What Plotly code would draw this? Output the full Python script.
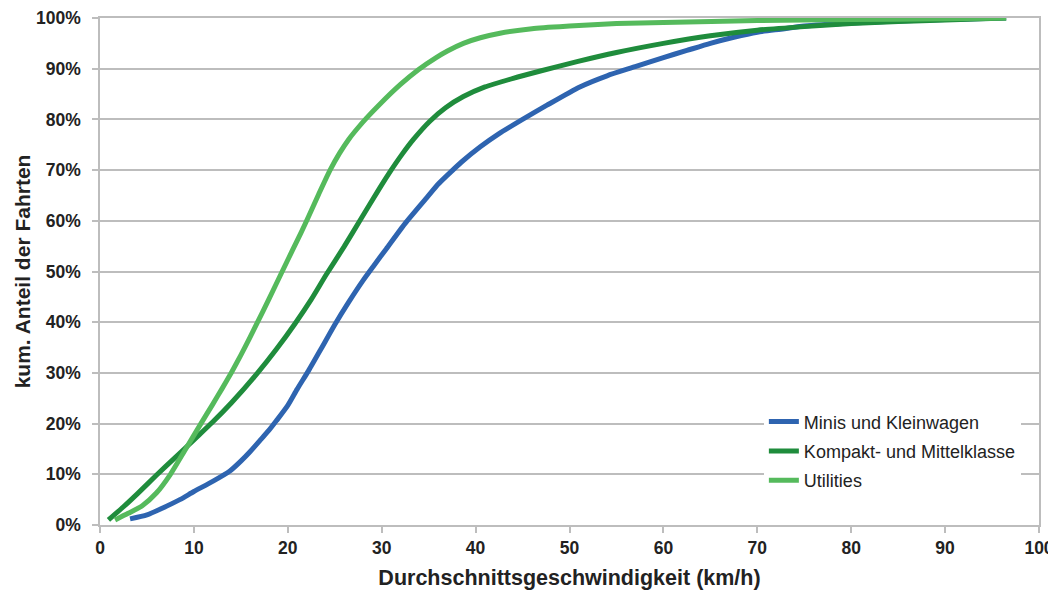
import plotly.graph_objects as go

# Minis und Kleinwagen (blue)
minis_x = [3.2, 5, 6.5, 8.5, 10, 12, 13.8, 15, 16, 17, 18, 18.8, 20, 21, 22.2, 23.5, 25, 26.5, 28, 29.1, 30.5, 32.5, 35, 36, 37, 38.5, 40.5, 42.5, 45, 47.6, 51.1, 54, 57, 60, 62.5, 65, 67.5, 70, 72.5, 75, 80, 85, 90, 96.5]
minis_y = [1.2, 2.0, 3.2, 5.0, 6.6, 8.6, 10.6, 12.6, 14.5, 16.6, 18.7, 20.6, 23.6, 26.8, 30.4, 34.6, 39.5, 44.0, 48.2, 51.0, 54.5, 59.5, 65.0, 67.2, 69.0, 71.6, 74.6, 77.2, 80.0, 82.8, 86.4, 88.6, 90.4, 92.2, 93.6, 95.0, 96.2, 97.2, 97.8, 98.4, 99.0, 99.4, 99.7, 100]

# Kompakt- und Mittelklasse (dark green)
kompakt_x = [0.9, 2.5, 4, 6, 8, 10, 12, 14, 16.7, 18.8, 20.8, 22.5, 24.1, 26, 27.7, 29.8, 30.9, 32.2, 33.4, 35.1, 36.8, 38.7, 41, 44, 47, 50.8, 55, 60, 65, 70, 75, 80, 85, 90, 96.5]
kompakt_y = [1.0, 3.6, 6.2, 9.8, 13.3, 16.8, 20.3, 24.1, 29.8, 34.7, 39.8, 44.5, 49.4, 54.9, 60.1, 66.5, 69.7, 73.2, 76.1, 79.6, 82.3, 84.5, 86.4, 88.1, 89.6, 91.4, 93.2, 95.0, 96.5, 97.6, 98.3, 98.9, 99.3, 99.6, 100]

# Utilities (light green)
util_x = [1.6, 3, 4.5, 6, 7.5, 9, 10.65, 12, 13, 14, 15, 16, 16.7, 18, 19.35, 20.5, 21.4, 22.2, 23.3, 24.5, 25.5, 26.5, 27.5, 28.4, 29.8, 32, 33.9, 35.8, 37, 38.7, 40.5, 42.6, 46, 50, 55, 60, 70, 80, 90, 96.5]
util_y = [1.0, 2.3, 3.8, 6.3, 10.0, 14.6, 19.7, 23.8, 26.9, 30.1, 33.5, 37.1, 39.7, 44.6, 49.8, 54.2, 57.6, 60.8, 65.3, 70.0, 73.3, 76.1, 78.4, 80.3, 83.0, 86.9, 89.8, 92.2, 93.5, 95.0, 96.1, 97.0, 97.9, 98.4, 98.9, 99.1, 99.5, 99.7, 99.85, 100]

names = ["Minis und Kleinwagen", "Kompakt- und Mittelklasse", "Utilities"]
colors = ["#2E64B0", "#1F8C3C", "#55BA5C"]

x_ticks = [0, 10, 20, 30, 40, 50, 60, 70, 80, 90, 100]
y_ticks = [0, 10, 20, 30, 40, 50, 60, 70, 80, 90, 100]
y_ticklabels = [f"{v}%" for v in y_ticks]

fig = go.Figure()
for i, (xs, ys) in enumerate([(minis_x, minis_y), (kompakt_x, kompakt_y), (util_x, util_y)]):
    fig.add_trace(go.Scatter(
        x=xs, y=ys, mode="lines", name=names[i],
        line=dict(color=colors[i], width=5, shape="spline", smoothing=0.6),
        legendgroup=f"g{i}",
    ))

font_family = "Liberation Sans, Arial, sans-serif"
axis_color = "#BDBDBD"
text_color = "#222222"

# the page body adds an 8px margin, so the figure is sized to fit the 1056x590 window
fig.update_layout(
    width=1048, height=582,
    margin=dict(l=92, r=17, t=10, b=65),
    paper_bgcolor="white", plot_bgcolor="white",
    font=dict(family=font_family, color=text_color),
    showlegend=True,
    legend=dict(
        x=0.707, y=0.24, xanchor="left", yanchor="top",
        bgcolor="white", borderwidth=0,
        font=dict(family=font_family, size=18, color=text_color),
        traceorder="grouped", tracegroupgap=3,
        itemwidth=30,
    ),
    xaxis=dict(
        range=[0, 100], tickvals=x_ticks, ticktext=[str(v) for v in x_ticks],
        showgrid=False, zeroline=False, automargin=False,
        showline=True, linecolor=axis_color, linewidth=1.5, mirror=True,
        ticks="outside", ticklen=6, tickcolor=axis_color, tickwidth=1.5,
        ticklabelstandoff=0,
        tickfont=dict(family=font_family, size=17.5, color=text_color, weight="bold"),
        title=dict(text="<b>Durchschnittsgeschwindigkeit (km/h)</b>", standoff=14,
                   font=dict(family=font_family, size=21.5, color=text_color)),
    ),
    yaxis=dict(
        range=[0, 100], tickvals=y_ticks, ticktext=y_ticklabels,
        showgrid=True, gridcolor=axis_color, gridwidth=1.5, zeroline=False,
        automargin=False,
        showline=True, linecolor=axis_color, linewidth=1.5, mirror=True,
        ticks="outside", ticklen=6, tickcolor=axis_color, tickwidth=1.5,
        ticklabelstandoff=8,
        tickfont=dict(family=font_family, size=17.5, color=text_color, weight="bold"),
        title=dict(text="<b>kum. Anteil der Fahrten</b>", standoff=0,
                   font=dict(family=font_family, size=21, color=text_color)),
    ),
)

fig.write_html("out.html")
